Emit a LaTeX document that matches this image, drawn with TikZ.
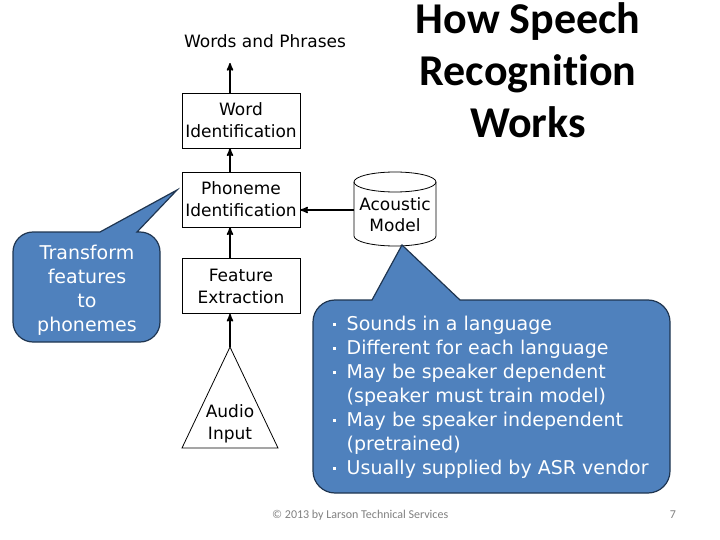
\documentclass[tikz,border=0pt]{standalone}
\usepackage{fontspec}
\setmainfont{DejaVu Sans}
\newfontfamily\titlefont{Carlito}[Ligatures=NoCommon]
\usepackage{tikz}
\usetikzlibrary{arrows, calc, positioning}
\definecolor{bubblue}{HTML}{4F81BD}
\definecolor{bubedge}{HTML}{1F3550}
\definecolor{footgray}{HTML}{808080}
\tikzset{
>=stealth', % bold arrow heads
every node/.style={inner sep=1pt},
stage/.style={draw, line width=0.8pt, minimum width=118pt, minimum height=55pt, align=center, font=\fontsize{17}{22}\selectfont},
flow/.style={->, line width=1.6pt},
bubble/.style={fill=bubblue, draw=bubedge, line width=1.2pt},
bubtext/.style={text=white, font=\fontsize{19}{24}\selectfont},
}
\newcommand{\bul}{\raisebox{5pt}{\rule{2.5pt}{2.5pt}}}

\begin{document}
\begin{tikzpicture}[x=1pt,y=-1pt]
  \useasboundingbox (0,0) rectangle (720,540);
  % title
  \node[align=center, font=\titlefont\bfseries\fontsize{44}{52}\selectfont] (title) at (528,70) {How Speech\\Recognition\\Works};
  % processing chain
  \node[font=\fontsize{17}{22}\selectfont] (phr) at (265,41) {Words and Phrases};
  \node[stage] (word) at (241,120.5) {Word\\Identification};
  \node[stage] (phon) at (241,199.5) {Phoneme\\Identification};
  \node[stage] (feat) at (241,286) {Feature\\Extraction};
  \coordinate (apex) at (230,347);
  \coordinate (out) at (230,63);
  \draw[line width=0.8pt] (182,448) -- (apex) -- (278,448) -- cycle;
  \node[align=center, font=\fontsize{17}{22}\selectfont] (audio) at (230,424) {Audio\\Input};
  \draw[flow] (apex) -- (apex |- feat.south);
  \draw[flow] (feat.north -| apex) -- (phon.south -| apex);
  \draw[flow] (phon.north -| apex) -- (word.south -| apex);
  \draw[flow] (word.north -| apex) -- (out);
  % acoustic model
  \draw[line width=0.8pt] (354,182) -- (354,236) arc[start angle=180, end angle=360, x radius=41pt, y radius=10pt] -- (436,182);
  \draw[line width=0.8pt] (395,182) ellipse[x radius=41pt, y radius=10pt];
  \node[align=center, font=\fontsize{17}{21}\selectfont] (acm) at (395,214.5) {Acoustic\\Model};
  \coordinate (acmw) at (354,210);
  \draw[flow] (acmw) -- (acmw -| phon.east);
  % callouts
  \draw[bubble] (177,190) -- (137,232) -- (140,232) arc[start angle=90, end angle=0, radius=20pt]
    -- (160,322) arc[start angle=0, end angle=-90, radius=20pt]
    -- (33,342) arc[start angle=270, end angle=180, radius=20pt]
    -- (13,252) arc[start angle=180, end angle=90, radius=20pt]
    -- (100,232) -- cycle;
  \node[bubtext, align=center] (hint) at (87,290) {Transform\\features\\to\\phonemes};
  \draw[bubble] (402,245) -- (460,300) -- (648,300) arc[start angle=90, end angle=0, radius=22pt]
    -- (670,471) arc[start angle=0, end angle=-90, radius=22pt]
    -- (335,493) arc[start angle=270, end angle=180, radius=22pt]
    -- (313,322) arc[start angle=180, end angle=90, radius=22pt]
    -- (372,300) -- cycle;
  \node[bubtext, anchor=west] (facts) at (332,398) {\begin{tabular}{@{}l@{\hspace{11pt}}l@{}}
    \bul & Sounds in a language\\
    \bul & Different for each language\\
    \bul & May be speaker dependent\\
         & (speaker must train model)\\
    \bul & May be speaker independent\\
         & (pretrained)\\
    \bul & Usually supplied by ASR vendor
  \end{tabular}};
  % footer
  \node[anchor=west, text=footgray, font=\titlefont\fontsize{12}{14}\selectfont] (copy) at (271,515) {© 2013 by Larson Technical Services};
  \node[text=footgray, font=\titlefont\fontsize{12}{14}\selectfont] (page) at (673,515) {7};
\end{tikzpicture}
\end{document}
